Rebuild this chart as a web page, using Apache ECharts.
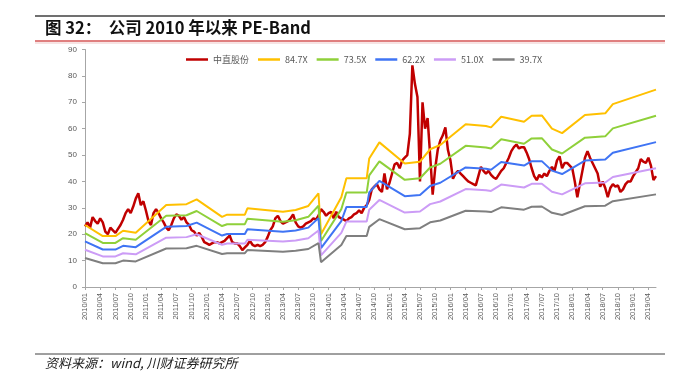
<!DOCTYPE html>
<html><head><meta charset="utf-8">
<script src="https://cdn.jsdelivr.net/npm/echarts@6/dist/echarts.min.js"></script>
<style>html,body{margin:0;padding:0;background:#fff}#c{width:679px;height:373px}</style>
</head><body><div id="c"></div>
<script>
// ---- data ----
const startYear = 2010;
const halfMonthCount = 226; // semi-monthly samples from 2010/01/01 to 2019/05/16
const tickLabels = ['2010/01','2010/04','2010/07','2010/10','2011/01','2011/04','2011/07','2011/10',
  '2012/01','2012/04','2012/07','2012/10','2013/01','2013/04','2013/07','2013/10',
  '2014/01','2014/04','2014/07','2014/10','2015/01','2015/04','2015/07','2015/10',
  '2016/01','2016/04','2016/07','2016/10','2017/01','2017/04','2017/07','2017/10',
  '2018/01','2018/04','2018/07','2018/10','2019/01','2019/04'];
const priceName = '中直股份';
const priceValues = [
  23,24.5,22.5,26.5,25,24,26,24.5,21,20,22.5,21.5,20.5,22,23.5,25.5,28,29.5,28,30.5,
  33.5,35.5,31,32.5,29,25,23.5,28,29.5,28,26,24.5,22.5,21.5,23.5,26,27.5,27,25.5,26.5,
  24.5,23.5,21.5,21,19.5,20.5,19,17,16.5,16,16.5,17,17,16.5,17,17.5,18.5,19.5,17,16.5,
  16.5,15.5,14,15,16,17.5,16,15.5,16,15.5,16,17,19,21.5,23,26,27,25,24,24.5,
  25,26,27.5,24.5,23,22.5,23,24,24.5,25,26,25.5,27,29.5,28.5,27,28,28.5,26,28.5,
  26.5,26,25.5,25,26,26.5,27.5,28,29,28,30,31,33,37,38,39,37,36,43,37,
  39.5,43,46.5,47,45,48,49,50,58,84,77,72,40,70,60,64,50,35,45,52,
  55.5,57.5,60.5,52,48,41,43,44,43,42,41,40,39.5,39,38.5,42,45.5,44,43,44,
  42.5,41.5,41,42.5,44,45,47,49,51.5,53,54,52.5,53,53,51,48.5,45,42,40.5,42.5,
  41.5,43,42,44,45.5,44,48,49.5,45,47,47,46,45,40,34,39,44,49,51.5,49,
  47,45,43,38,40,37.5,34,37.5,39,38,38.5,36,37,39,40,40,42,43.5,45,48.5,
  47.5,47,49,46,40.5,42];
const bandNames = ['84.7X','73.5X','62.2X','51.0X','39.7X'];
const bandDates = ['2010/01/01','2010/04/16','2010/07/01','2010/08/16','2010/11/01','2011/05/01','2011/09/01','2011/11/01',
  '2012/04/01','2012/05/01','2012/08/16','2012/09/01','2013/04/01','2013/06/16','2013/09/01','2013/11/01','2013/11/16',
  '2014/03/16','2014/04/16','2014/08/16','2014/09/01','2014/11/01','2015/04/01','2015/07/01','2015/09/01','2015/11/01',
  '2016/04/01','2016/08/01','2016/09/01','2016/11/01','2017/03/16','2017/05/01','2017/07/01','2017/09/01','2017/11/01',
  '2018/03/16','2018/07/16','2018/09/01','2019/05/16'];
const band847 = [23.5,19.3,19.3,21.3,20.6,31.1,31.4,33.2,26.6,27.4,27.4,29.8,28.5,29.2,30.7,35.5,20.0,34.0,41.2,41.2,48.7,54.8,46.8,47.5,52.2,53.8,61.7,61.0,60.5,64.5,62.6,64.9,65.0,60.0,58.3,65.2,65.8,69.3,74.8];
const band735 = [20.4,16.7,16.7,18.5,17.9,27.0,27.2,28.8,23.1,23.8,23.8,25.9,24.7,25.3,26.6,30.8,17.4,29.5,35.8,35.8,42.3,47.6,40.6,41.2,45.3,46.7,53.5,52.9,52.5,56.0,54.3,56.3,56.4,52.1,50.6,56.6,57.1,60.1,64.9];
const band622 = [17.3,14.2,14.2,15.6,15.1,22.8,23.1,24.4,19.5,20.1,20.1,21.9,20.9,21.4,22.5,26.1,14.7,25.0,30.3,30.3,35.8,40.2,34.4,34.9,38.3,39.5,45.3,44.8,44.4,47.4,46.0,47.7,47.7,44.1,42.8,47.9,48.3,50.9,54.9];
const band510 = [14.1,11.6,11.6,12.8,12.4,18.7,18.9,20.0,16.0,16.5,16.5,17.9,17.2,17.6,18.5,21.4,12.0,20.5,24.8,24.8,29.3,33.0,28.2,28.6,31.4,32.4,37.1,36.7,36.4,38.8,37.7,39.1,39.1,36.1,35.1,39.3,39.6,41.7,45.0];
const band397 = [11.0,9.0,9.0,10.0,9.7,14.6,14.7,15.6,12.5,12.8,12.8,14.0,13.4,13.7,14.4,16.6,9.4,15.9,19.3,19.3,22.8,25.7,21.9,22.3,24.5,25.2,28.9,28.6,28.4,30.2,29.3,30.4,30.5,28.1,27.3,30.6,30.8,32.5,35.1];

// ---- build ----
const categories = [];
for (let i = 0; i < halfMonthCount; i++) {
  const m = Math.floor(i / 2);
  const y = startYear + Math.floor(m / 12);
  const mo = String(m % 12 + 1).padStart(2, '0');
  categories.push(y + '/' + mo + '/' + (i % 2 ? '16' : '01'));
}
const isTick = (idx, val) => val.endsWith('/01') && tickLabels.includes(val.slice(0, 7));
const bandValues = [band847, band735, band622, band510, band397];
const bandColors = ['#ffc000', '#8fd03a', '#3f74f4', '#cc9cf6', '#7f7f7f'];
const axisGray = '#a6a6a6';
const txt = '#595959';

const series = [{
  name: priceName, type: 'line', data: priceValues, showSymbol: false,
  lineStyle: { color: '#c00000', width: 2.5 }, itemStyle: { color: '#c00000' }, z: 2
}];
bandNames.forEach((n, k) => {
  series.push({
    name: n, type: 'line', showSymbol: false,
    data: bandDates.map((d, j) => [d, bandValues[k][j]]),
    lineStyle: { color: bandColors[k], width: 2 }, itemStyle: { color: bandColors[k] }, z: 3
  });
});

const chart = echarts.init(document.getElementById('c'), null, { renderer: 'canvas' });
chart.setOption({
  animation: false,
  backgroundColor: '#fff',
  legend: {
    left: 181, top: 50, icon: 'rect', itemWidth: 22, itemHeight: 2.5, itemGap: 9,
    textStyle: { fontSize: 9, color: txt, fontFamily: 'Noto Sans CJK SC' },
    data: [priceName].concat(bandNames)
  },
  grid: { left: 85, right: 23, top: 49.5, bottom: 86, containLabel: false },
  xAxis: {
    type: 'category', data: categories, boundaryGap: false,
    axisLine: { lineStyle: { color: axisGray, width: 1 } },
    axisTick: { show: true, interval: isTick, length: 3, lineStyle: { color: axisGray } },
    axisLabel: {
      interval: isTick, rotate: 90, fontSize: 7.5, color: txt, margin: 6,
      fontFamily: 'Liberation Sans', formatter: v => v.slice(0, 7)
    },
    splitLine: { show: false }
  },
  yAxis: {
    type: 'value', min: 0, max: 90, interval: 10,
    axisLine: { show: true, lineStyle: { color: axisGray, width: 1 } },
    axisTick: { show: true, length: 3, lineStyle: { color: axisGray } },
    axisLabel: { fontSize: 8, color: txt, margin: 8, fontFamily: 'Liberation Sans' },
    splitLine: { show: false }
  },
  graphic: [
    { type: 'line', shape: { x1: 35, y1: 16, x2: 665, y2: 16 }, style: { stroke: '#404040', lineWidth: 1.5 } },
    { type: 'text', left: 45, top: 19, style: { text: '图 32：  公司 2010 年以来 PE-Band', font: 'bold 16.5px "Noto Sans CJK SC"', fill: '#111' } },
    { type: 'line', shape: { x1: 35, y1: 41, x2: 665, y2: 41 }, style: { stroke: '#c00000', lineWidth: 1 } },
    { type: 'line', shape: { x1: 35, y1: 43, x2: 665, y2: 43 }, style: { stroke: '#f0c8c8', lineWidth: 1 } },
    { type: 'line', shape: { x1: 35, y1: 354, x2: 665, y2: 354 }, style: { stroke: '#404040', lineWidth: 1 } },
    { type: 'text', left: 45, top: 357, style: { text: '资料来源：wind, 川财证券研究所', font: 'italic 13px "Noto Sans CJK SC"', fill: '#222' } }
  ],
  series: series
});
</script></body></html>
